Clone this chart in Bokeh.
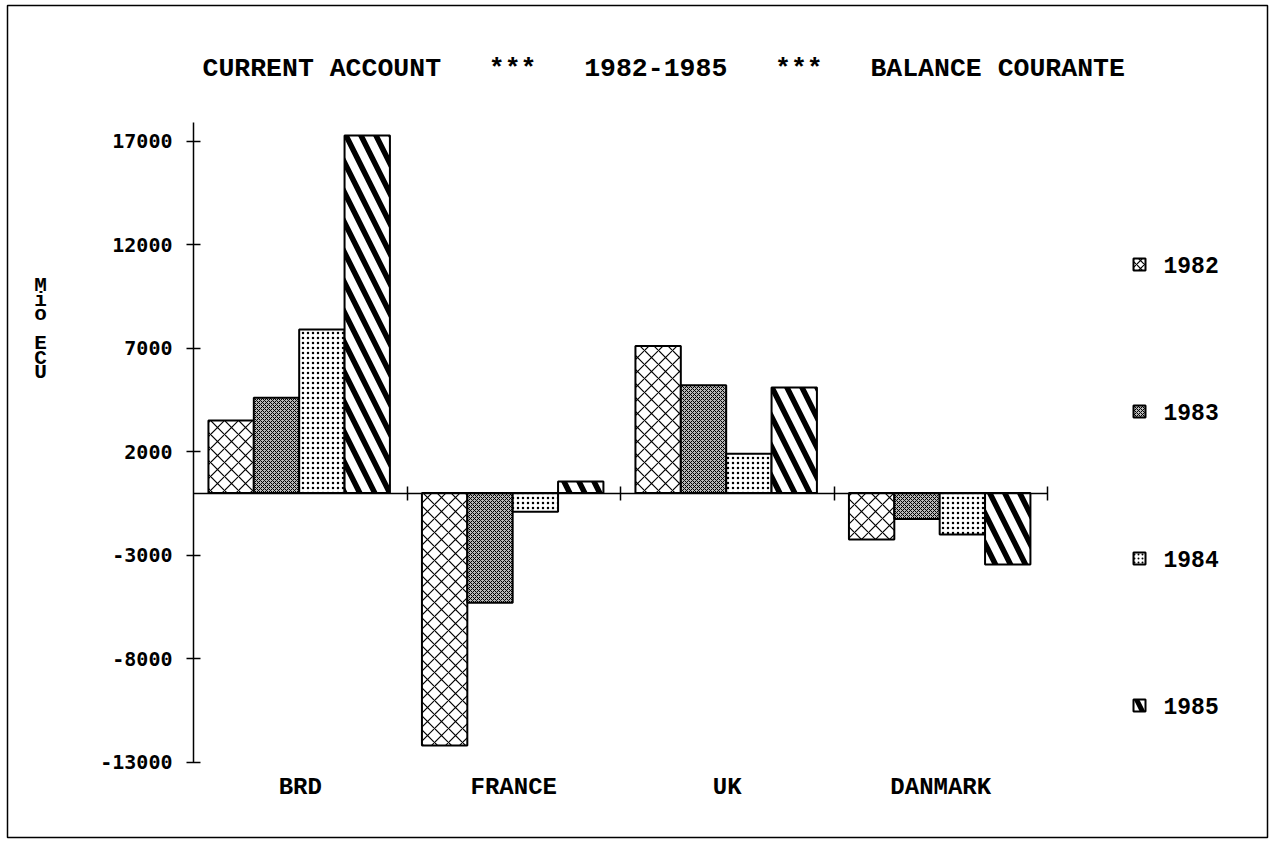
import numpy as np
from bokeh.plotting import figure
from bokeh.models import ColumnDataSource, LinearAxis, FixedTicker, Range1d, BoxAnnotation
from bokeh.core.properties import value
from bokeh.embed import file_html
from bokeh.resources import INLINE

# ---------------- data ----------------
countries = ["BRD", "FRANCE", "UK", "DANMARK"]
years = ["1982", "1983", "1984", "1985"]
v1982 = [3500, -12200, 7100, -2250]
v1983 = [4600, -5300, 5200, -1250]
v1984 = [7900, -900, 1900, -2000]
v1985 = [17270, 550, 5100, -3450]
series = [v1982, v1983, v1984, v1985]
y_ticks = [-13000, -8000, -3000, 2000, 7000, 12000, 17000]
y_tick_labels = ["-13000", "-8000", "-3000", "2000", "7000", "12000", "17000"]
title_text = "CURRENT ACCOUNT   ***   1982-1985   ***   BALANCE COURANTE"
y_label_letters = ["M", "i", "o", "E", "C", "U"]
y_label_lines = [0, 1, 2, 4, 5, 6]

# ---------------- layout (pixels of the page) ----------------
W, H = 1270, 840
AX_X = 193.0          # page x of value axis
CAT_PX = 213.5        # pixels per category
ZERO_Y = 492.5        # page y of the zero line
K = 621.0 / 30000.0   # pixels per unit

def X(px):
    return (px - AX_X) / CAT_PX

def Y(py):
    return (ZERO_Y - py) / K

p = figure(width=W, height=H, output_backend="svg", toolbar_location=None,
           title=None, x_axis_location=None, y_axis_location=None,
           x_range=Range1d(X(0), X(W)), y_range=Range1d(Y(H), Y(0)),
           min_border=0, min_border_left=0, min_border_right=0,
           min_border_top=0, min_border_bottom=0)
p.grid.visible = False
p.background_fill_color = "white"
p.border_fill_color = "white"
p.outline_line_color = None

# page border
p.add_layout(BoxAnnotation(left=X(7), right=X(1267), top=Y(5), bottom=Y(837),
                           fill_color=None, fill_alpha=0, line_color="black",
                           line_alpha=1.0, line_width=1.5))

# value axis
yax = LinearAxis(fixed_location=0, ticker=FixedTicker(ticks=y_ticks),
                 bounds=(-13000, 17900))
yax.major_label_overrides = {t: l for t, l in zip(y_ticks, y_tick_labels)}
yax.major_label_text_font = "DejaVu Sans Mono"
yax.major_label_text_font_style = "bold"
yax.major_label_text_font_size = "20px"
yax.major_label_text_color = "black"
yax.major_label_standoff = 14
yax.major_tick_in = 7
yax.major_tick_out = 7
yax.major_tick_line_width = 1.5
yax.axis_line_width = 1.5
yax.minor_tick_line_color = None
p.add_layout(yax, "left")

# zero line as category axis
xax = LinearAxis(fixed_location=0, ticker=FixedTicker(ticks=[1, 2, 3, 4]), bounds=(0, 4))
xax.major_label_text_color = None
xax.major_label_text_font_size = "1px"
xax.major_tick_in = 7
xax.major_tick_out = 7
xax.major_tick_line_width = 1.5
xax.axis_line_width = 1.5
xax.minor_tick_line_color = None
p.add_layout(xax, "below")

styles = [
    dict(fill_color="white", hatch_pattern=value("diagonal_cross"), hatch_scale=14, hatch_weight=1.2),
    dict(fill_color="#b8b8b8", hatch_pattern=value("diagonal_cross"), hatch_scale=4, hatch_weight=1.0),
    dict(fill_color="white", hatch_pattern=value("dot"), hatch_scale=5, hatch_weight=1.0),
    dict(fill_color="white", hatch_pattern=value("left_diagonal_line"), hatch_scale=30, hatch_weight=5.5),
]
legend_styles = [
    dict(fill_color="white", hatch_pattern=value("diagonal_cross"), hatch_scale=8, hatch_weight=1.2),
    dict(fill_color="#b8b8b8", hatch_pattern=value("diagonal_cross"), hatch_scale=4, hatch_weight=1.0),
    dict(fill_color="white", hatch_pattern=value("dot"), hatch_scale=4, hatch_weight=1.0),
    dict(fill_color="white", hatch_pattern=value("left_diagonal_line"), hatch_scale=24, hatch_weight=5),
]

GROUP_OFF = 0.07
BAR_W = 0.2125
idx = np.arange(len(countries))
legend_py = [264, 411, 558, 705]

for j, (yr, vals) in enumerate(zip(years, series)):
    src = ColumnDataSource(dict(x=idx + GROUP_OFF + (j + 0.5) * BAR_W,
                                top=vals, country=countries))
    p.vbar(x="x", top="top", bottom=0, width=BAR_W, source=src,
           line_color="black", line_width=2, hatch_color="black", **styles[j])
    # legend marker and text
    p.rect(x=[X(1139)], y=[Y(legend_py[j])], width=12, height=12,
           width_units="screen", height_units="screen",
           line_color="black", line_width=2, hatch_color="black", **legend_styles[j])
    p.text(x=[X(1163)], y=[Y(legend_py[j])], text=[yr],
           text_font=value("Liberation Mono"), text_font_style="bold",
           text_font_size="23px", text_align="left", text_baseline="middle",
           text_color="black")

# category labels
p.text(x=idx + 0.5, y=[Y(787)] * len(countries), text=countries,
       text_font=value("Liberation Mono"), text_font_style="bold",
       text_font_size="24px", text_align="center", text_baseline="middle",
       text_color="black")

# title (non-breaking spaces keep the wide gaps)
p.text(x=[X(202)], y=[Y(68)], text=[title_text.replace(" ", "\u00a0")],
       text_font=value("Liberation Mono"), text_font_style="bold",
       text_font_size="26.5px", text_align="left", text_baseline="middle",
       text_color="black")

# stacked axis label
p.text(x=[X(40)] * len(y_label_letters),
       y=[Y(285 + 14.5 * k) for k in y_label_lines],
       text=y_label_letters,
       text_font=value("Liberation Mono"), text_font_style="bold",
       text_font_size="21px", text_align="center", text_baseline="middle",
       text_color="black")

open("out.html", "w").write(file_html(p, INLINE))
